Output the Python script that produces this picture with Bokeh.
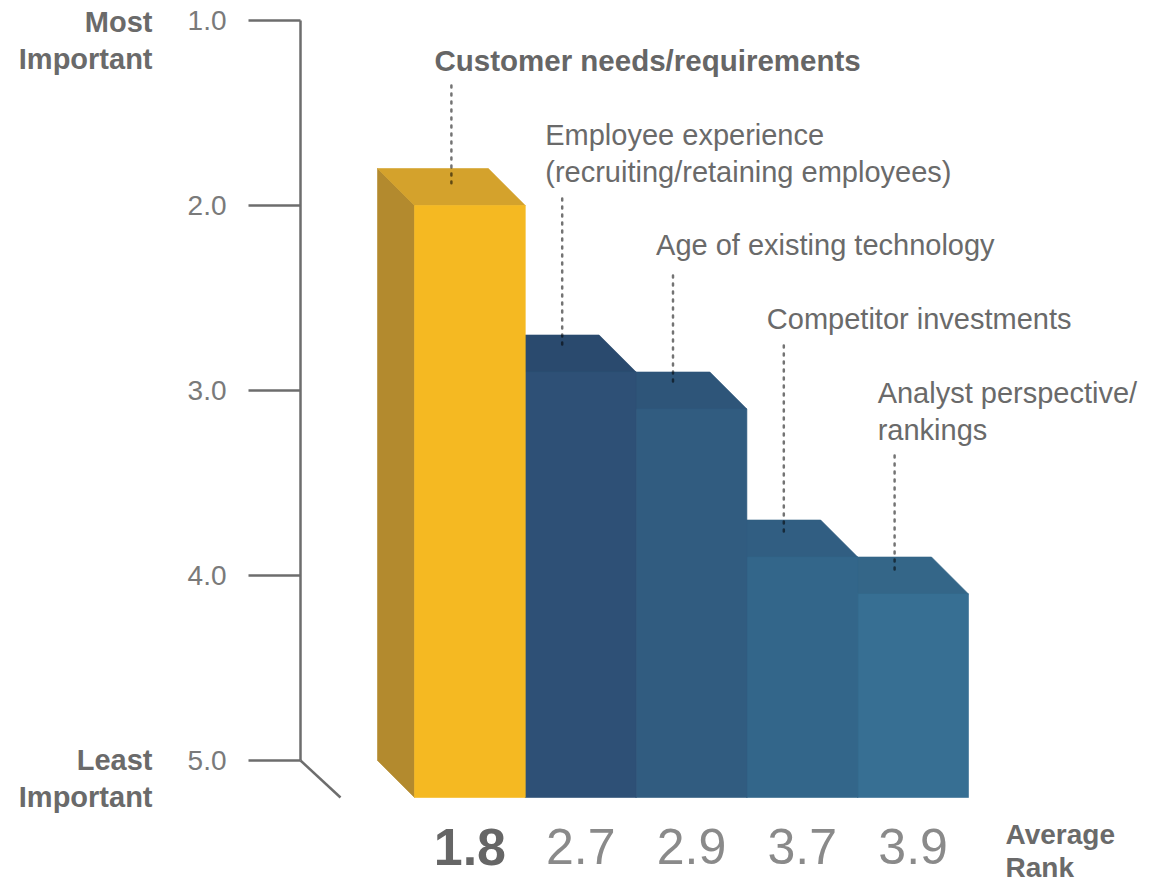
from bokeh.plotting import figure
from bokeh.models import Range1d
from bokeh.embed import file_html
from bokeh.resources import INLINE
from bokeh.core.properties import value

# ---------------- data ----------------
categories = [
    "Customer needs/requirements",
    "Employee experience\n(recruiting/retaining employees)",
    "Age of existing technology",
    "Competitor investments",
    "Analyst perspective/\nrankings",
]
avg_rank = [1.8, 2.7, 2.9, 3.7, 3.9]
rank_labels = ["1.8", "2.7", "2.9", "3.7", "3.9"]
y_ticks = [1.0, 2.0, 3.0, 4.0, 5.0]
y_tick_labels = ["1.0", "2.0", "3.0", "4.0", "5.0"]
scale_top = "Most\nImportant"
scale_bottom = "Least\nImportant"
rank_title = "Average\nRank"

# ---------------- layout / style ----------------
FONT = value("Liberation Sans")
W, H = 1150, 886
PX_X = 110.8          # pixels per bar
PX_Y = 185.0          # pixels per rank unit
X0 = 414.0            # canvas x of first bar front-left edge
Y0 = 20.0             # canvas y of rank 1.0
DX = 37.0 / PX_X      # depth offset (x)
DY = 0.2              # depth offset (rank units)
BASE = 5.0

FRONT = ["#F5B922", "#2E5076", "#315C80", "#33668A", "#376F93"]
TOP = ["#D4A22C", "#2A4A6E", "#2E5579", "#315E82", "#346688"]
SIDE = ["#B38A2E", "#233F5F", "#284C6E", "#2A5476", "#2E5C7E"]

LABEL_Y = [1.216, 1.719, 2.211, 2.611, 3.114]      # block centres
LEADER_TOP = [1.351, 1.962, 2.378, 2.757, 3.351]
AXIS_X = (300 - X0) / PX_X
TICK_X0 = (248 - X0) / PX_X
TICK_LABEL_X = (226 - X0) / PX_X
SCALE_LABEL_X = (152 - X0) / PX_X
AXIS_COLOR = "#6d6d6d"

p = figure(
    width=W, height=H, output_backend="svg", toolbar_location=None,
    x_range=Range1d(-X0 / PX_X, (W - X0) / PX_X),
    y_range=Range1d(1 + (H - Y0) / PX_Y, 1 - Y0 / PX_Y),
    min_border=0, outline_line_color=None,
    x_axis_location=None, y_axis_location=None,
)
p.grid.visible = False
p.background_fill_color = "white"
p.border_fill_color = "white"

# ---------------- 3D bars (drawn right to left) ----------------
xs, ys, fills = [], [], []
for i in reversed(range(len(avg_rank))):
    v = avg_rank[i]
    # side face
    xs.append([i - DX, i, i, i - DX]); ys.append([v, v + DY, BASE + DY, BASE]); fills.append(SIDE[i])
    # top face
    xs.append([i - DX, i + 1 - DX, i + 1, i]); ys.append([v, v, v + DY, v + DY]); fills.append(TOP[i])
    # front face
    xs.append([i, i + 1, i + 1, i]); ys.append([v + DY, v + DY, BASE + DY, BASE + DY]); fills.append(FRONT[i])
p.patches(xs, ys, fill_color=fills, line_color=fills, line_width=0.6)

# ---------------- axis ----------------
p.segment(x0=[AXIS_X], y0=[y_ticks[0]], x1=[AXIS_X], y1=[y_ticks[-1]],
          line_color=AXIS_COLOR, line_width=2.5)
p.segment(x0=[TICK_X0] * len(y_ticks), y0=y_ticks, x1=[AXIS_X] * len(y_ticks), y1=y_ticks,
          line_color=AXIS_COLOR, line_width=2.5)
p.segment(x0=[AXIS_X], y0=[BASE], x1=[AXIS_X + 40 / PX_X], y1=[BASE + DY],
          line_color=AXIS_COLOR, line_width=2.5)
p.text(x=[TICK_LABEL_X] * len(y_ticks), y=y_ticks, text=y_tick_labels,
       text_font=FONT, text_font_size="28px", text_color="#7a7a7a",
       text_align="right", text_baseline="middle")

p.text(x=[SCALE_LABEL_X, SCALE_LABEL_X], y=[1.108, 5.097], text=[scale_top, scale_bottom],
       text_font=FONT, text_font_size="29px", text_font_style="bold", text_color="#6a6a6a",
       text_align="right", text_baseline="middle", text_line_height=1.14)

# ---------------- leaders and labels ----------------
n = len(avg_rank)
lx = [i + 0.5 - DX / 2 for i in range(n)]
p.segment(x0=lx, y0=LEADER_TOP, x1=lx, y1=[v + 0.08 for v in avg_rank],
          line_color="black", line_alpha=0.55, line_width=2.5, line_dash="2 6", line_cap="round")

p.text(x=[0.18], y=[LABEL_Y[0]], text=[categories[0]],
       text_font=FONT, text_font_size="29.5px", text_font_style="bold", text_color="#666666",
       text_align="left", text_baseline="middle")
p.text(x=[i + 0.18 for i in range(1, n)], y=LABEL_Y[1:], text=categories[1:],
       text_font=FONT, text_font_size="29px", text_color="#6a6a6a",
       text_align="left", text_baseline="middle", text_line_height=1.15)

# ---------------- bottom value labels ----------------
p.text(x=[0.5], y=[5.466], text=[rank_labels[0]],
       text_font=FONT, text_font_size="52px", text_font_style="bold", text_color="#666666",
       text_align="center", text_baseline="middle")
p.text(x=[i + 0.5 for i in range(1, n)], y=[5.466] * (n - 1), text=rank_labels[1:],
       text_font=FONT, text_font_size="50px", text_color="#8a8a8a",
       text_align="center", text_baseline="middle")
p.text(x=[(1005 - X0) / PX_X], y=[5.49], text=[rank_title],
       text_font=FONT, text_font_size="28px", text_font_style="bold", text_color="#6a6a6a",
       text_align="left", text_baseline="middle", text_line_height=1.05)

open("out.html", "w").write(file_html(p, INLINE))
